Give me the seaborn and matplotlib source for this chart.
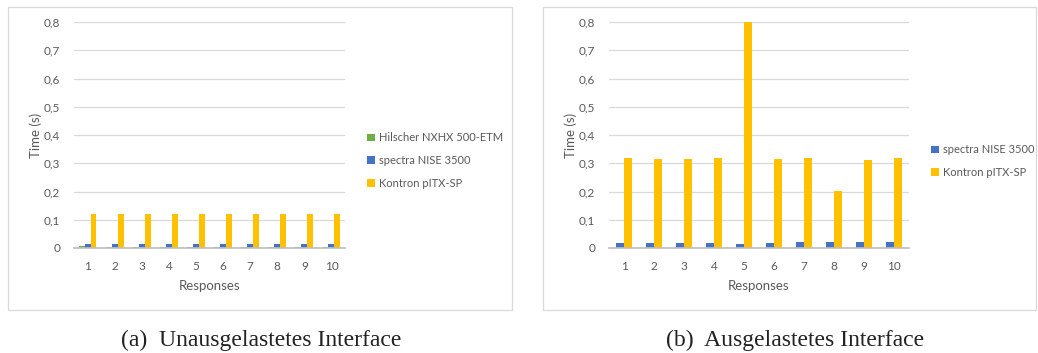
import matplotlib
import pandas as pd
import seaborn as sns

matplotlib.use("Agg")
import matplotlib.pyplot as plt
from matplotlib.patches import Rectangle
from matplotlib.ticker import FuncFormatter

responses = [str(i) for i in range(1, 11)]

# (a) idle interface
hilscher_a = [0.006, 0.005, 0.005, 0.005, 0.005, 0.005, 0.005, 0.005, 0.005, 0.005]
spectra_a = [0.014, 0.014, 0.014, 0.014, 0.014, 0.014, 0.014, 0.014, 0.014, 0.014]
kontron_a = [0.121, 0.121, 0.121, 0.121, 0.121, 0.121, 0.121, 0.121, 0.121, 0.121]

# (b) loaded interface
spectra_b = [0.018, 0.018, 0.018, 0.018, 0.014, 0.016, 0.020, 0.020, 0.020, 0.020]
kontron_b = [0.318, 0.316, 0.316, 0.318, 0.800, 0.315, 0.318, 0.202, 0.312, 0.318]

devices_a = ["Hilscher NXHX 500-ETM", "spectra NISE 3500", "Kontron pITX-SP"]
devices_b = ["spectra NISE 3500", "Kontron pITX-SP"]
colors = {"Hilscher NXHX 500-ETM": "#70AD47", "spectra NISE 3500": "#4472C4",
          "Kontron pITX-SP": "#FFC000"}

TXT = "#595959"
W, H = 1038, 353


def _long(series, names):
    rows = []
    for name, vals in zip(names, series):
        for r, v in zip(responses, vals):
            rows.append({"response": r, "device": name, "time": v})
    return pd.DataFrame(rows)


def _panel(fig, rect, df, names, width, legend_xy, frame, caption, cap_x):
    ax = fig.add_axes([rect[0] / W, (H - rect[1] - rect[3]) / H, rect[2] / W, rect[3] / H])
    sns.barplot(data=df, x="response", y="time", hue="device", hue_order=names,
                order=responses, palette=colors, width=width, gap=0, ax=ax,
                saturation=1, errorbar=None, linewidth=0)
    ax.set_ylim(0, 0.8)
    ax.set_yticks([i / 10 for i in range(9)])
    ax.yaxis.set_major_formatter(FuncFormatter(lambda v, p: "0" if v == 0 else f"{v:.1f}".replace(".", ",")))
    ax.grid(axis="y", color="#D9D9D9", linewidth=0.9)
    ax.grid(axis="x", visible=False)
    ax.set_axisbelow(True)
    for s in ["left", "right", "top"]:
        ax.spines[s].set_visible(False)
    ax.spines["bottom"].set_color("#BFBFBF")
    ax.tick_params(axis="both", length=0, colors=TXT, labelsize=8.5)
    ax.tick_params(axis="x", pad=9)
    ax.tick_params(axis="y", pad=10)
    ax.set_xlabel("Responses", color=TXT, fontsize=9.5, labelpad=6)
    ax.set_ylabel("Time (s)", color=TXT, fontsize=9.5, labelpad=1)
    ax.legend(loc="upper left", bbox_to_anchor=(legend_xy[0] / W, 1 - legend_xy[1] / H),
              bbox_transform=fig.transFigure, frameon=False, fontsize=8,
              handlelength=0.7, handleheight=0.7, handletextpad=0.3,
              labelspacing=1.05, labelcolor=TXT, borderaxespad=0)
    fig.patches.append(Rectangle((frame[0] / W, (H - frame[3]) / H), (frame[2] - frame[0]) / W,
                                 (frame[3] - frame[1]) / H, transform=fig.transFigure,
                                 fill=False, edgecolor="#D9D9D9", linewidth=0.9))
    fig.text(cap_x / W, 1 - 340 / H, caption, ha="center", va="center",
             fontsize=17, family="Liberation Serif", color="#222222")
    return ax


def main() -> None:
    sns.set_theme(style="white")
    plt.rcParams["font.family"] = ["Lato", "DejaVu Sans"]
    fig = plt.figure(figsize=(W / 100, H / 100), dpi=100)

    df_a = _long([hilscher_a, spectra_a, kontron_a], devices_a)
    df_b = _long([spectra_b, kontron_b], devices_b)

    _panel(fig, (74, 22, 271, 226), df_a, devices_a, 0.66, (363, 128),
           (8, 7, 512, 310), "(a)  Unausgelastetes Interface", 261)
    _panel(fig, (609, 22, 300, 226), df_b, devices_b, 0.55, (927, 140),
           (543, 7, 1036, 310), "(b)  Ausgelastetes Interface", 795)

    fig.savefig("out.png", dpi=100)
    plt.close(fig)


if __name__ == "__main__":
    main()
